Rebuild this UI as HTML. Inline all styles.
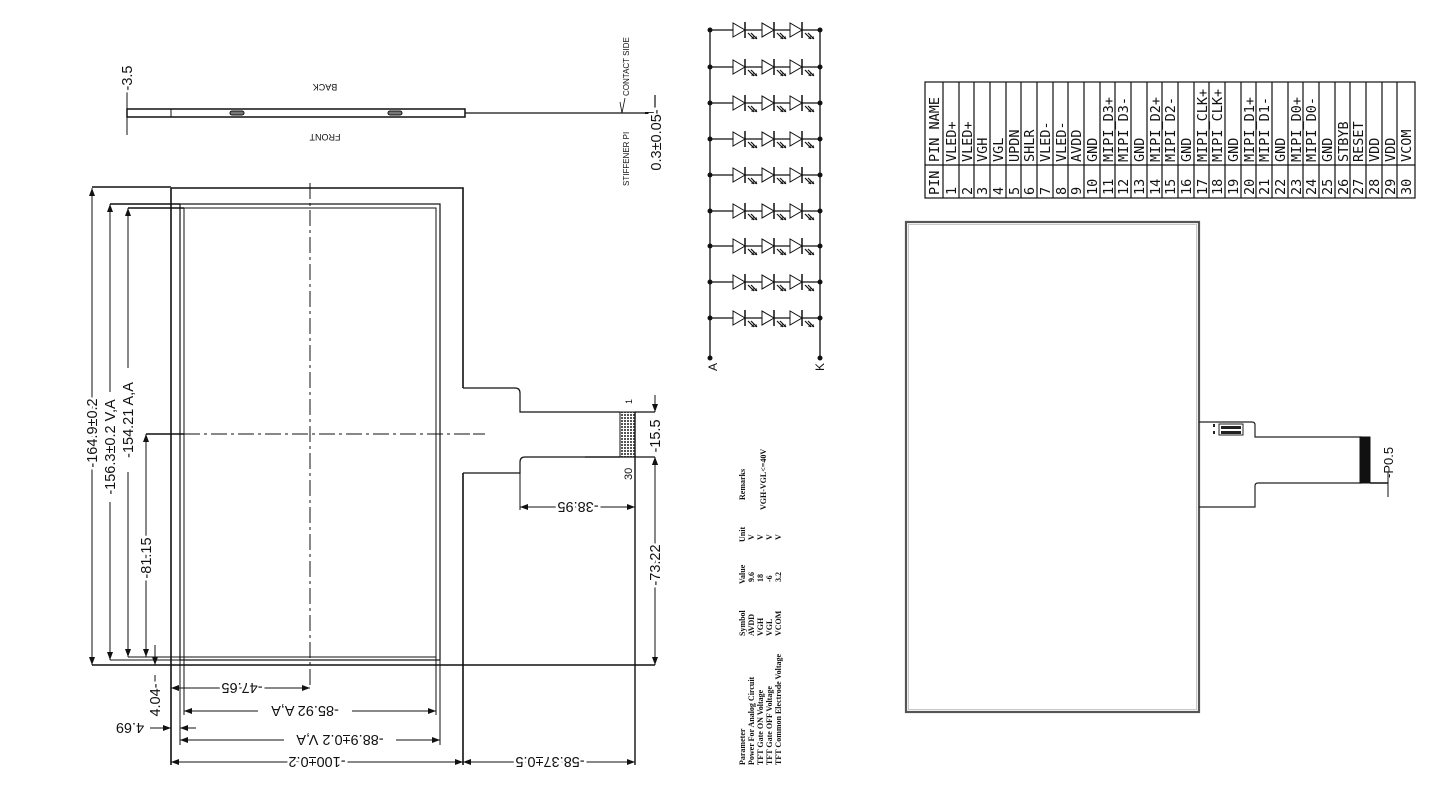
<!DOCTYPE html>
<html><head><meta charset="utf-8"><style>
html,body{margin:0;padding:0;background:#fff;}
svg{display:block;}
text{font-family:"Liberation Sans",sans-serif;fill:#111;}
.m{font-family:"DejaVu Sans Mono","Liberation Mono",monospace;font-size:13.5px;}
.s{font-family:"Liberation Serif",serif;font-weight:bold;font-size:8px;}
.dm{font-size:14.5px;text-anchor:middle;stroke:#fff;stroke-width:5px;paint-order:stroke;}
</style></head><body>
<svg width="1455" height="790" viewBox="0 0 1455 790" xmlns="http://www.w3.org/2000/svg">
<defs>
<g id="d">
<path d="M0,-7 L0,7 L12,0 Z" fill="#fff" stroke="#111" stroke-width="1"/>
<path d="M12,-8 L12,8" stroke="#111" stroke-width="1.5"/>
<path d="M15,3 L21,9 M18,3 L24,9" stroke="#111" stroke-width="1.2"/>
<path d="M21,9 l-3,-0.5 l2.5,-2.5 Z M24,9 l-3,-0.5 l2.5,-2.5 Z" fill="#111"/>
</g>
<g id="row">
<line x1="710" y1="0" x2="820" y2="0" stroke="#111" stroke-width="1.2"/>
<circle cx="710" cy="0" r="2.5" fill="#111"/><circle cx="820" cy="0" r="2.5" fill="#111"/>
<use href="#d" x="733" y="0"/><use href="#d" x="762" y="0"/><use href="#d" x="790" y="0"/>
</g>
<marker id="ar" markerWidth="8" markerHeight="6" refX="8" refY="3" orient="auto-start-reverse" markerUnits="userSpaceOnUse"><path d="M0,0 L8,3 L0,6 Z" fill="#111"/></marker>
<pattern id="hat" width="3" height="3" patternUnits="userSpaceOnUse"><rect width="3" height="3" fill="#fff"/><rect width="2" height="2" fill="#555"/></pattern>
</defs>

<!-- SIDE VIEW -->
<g stroke="#111" fill="none">
<rect x="127" y="109" width="338" height="8" stroke-width="1.5"/>
<line x1="171" y1="109" x2="171" y2="117"/>
<rect x="230" y="111" width="14" height="4" rx="2" fill="#777"/>
<rect x="388" y="111" width="14" height="4" rx="2" fill="#777"/>
<line x1="465" y1="113" x2="655" y2="113" stroke-width="1.2"/>
<line x1="127" y1="90" x2="127" y2="135"/>
<line x1="655" y1="95" x2="655" y2="130" stroke-width="1.2"/>
<line x1="645" y1="113" x2="655" y2="113" stroke-width="2"/>
<path d="M620,102 L622,113 L625,98" stroke-width="0.8"/>
</g>
<text class="dm" transform="translate(132,78) rotate(-90)">-3.5</text>
<text font-size="9" text-anchor="middle" transform="translate(325,84) rotate(180)">BACK</text>
<text font-size="9" text-anchor="middle" transform="translate(325,134) rotate(180)">FRONT</text>
<text font-size="8" transform="translate(629,96) rotate(-90)">CONTACT SIDE</text>
<text font-size="8" transform="translate(629,186) rotate(-90)">STIFFENER PI</text>
<text class="dm" transform="translate(661,140) rotate(-90)">0.3±0.05-</text>

<!-- FRONT VIEW -->
<g stroke="#111" fill="none">
<path d="M171,188 L463,188 L463,388 M463,473 L463,765" stroke-width="1.6"/>
<line x1="171" y1="188" x2="171" y2="765" stroke-width="1.6"/>
<rect x="180" y="204" width="260" height="456" stroke-width="1.2"/>
<rect x="184" y="208" width="252" height="449" stroke-width="1"/>
<line x1="92" y1="187" x2="171" y2="187" stroke-width="1.4"/>
<line x1="110" y1="204" x2="180" y2="204" stroke-width="1.4"/>
<line x1="128" y1="208" x2="184" y2="208" stroke-width="1.4"/>
<line x1="146" y1="434" x2="184" y2="434" stroke-width="1.4"/>
<line x1="92" y1="665" x2="655" y2="665" stroke-width="1.4"/>
<line x1="110" y1="660" x2="440" y2="660"/>
<line x1="128" y1="657" x2="436" y2="657"/>
<line x1="310" y1="183" x2="310" y2="688" stroke-dasharray="16,4,3,4"/>
<line x1="184" y1="434" x2="485" y2="434" stroke-dasharray="16,4,3,4"/>
<line x1="92" y1="188" x2="92" y2="665" marker-start="url(#ar)" marker-end="url(#ar)"/>
<line x1="110" y1="204" x2="110" y2="660" marker-start="url(#ar)" marker-end="url(#ar)"/>
<line x1="128" y1="208" x2="128" y2="657" marker-start="url(#ar)" marker-end="url(#ar)"/>
<line x1="146" y1="434" x2="146" y2="657" marker-start="url(#ar)" marker-end="url(#ar)"/>
<line x1="155" y1="645" x2="155" y2="665" marker-end="url(#ar)"/>
<line x1="155" y1="715" x2="155" y2="675"/>
<line x1="180" y1="660" x2="180" y2="745"/>
<line x1="184" y1="657" x2="184" y2="715"/>
<line x1="440" y1="660" x2="440" y2="745"/>
<line x1="436" y1="657" x2="436" y2="715"/>
<line x1="171" y1="688" x2="310" y2="688" marker-start="url(#ar)" marker-end="url(#ar)"/>
<line x1="184" y1="711" x2="436" y2="711" marker-start="url(#ar)" marker-end="url(#ar)"/>
<line x1="180" y1="740" x2="440" y2="740" marker-start="url(#ar)" marker-end="url(#ar)"/>
<line x1="171" y1="762" x2="463" y2="762" marker-start="url(#ar)" marker-end="url(#ar)"/>
<line x1="463" y1="762" x2="635" y2="762" marker-start="url(#ar)" marker-end="url(#ar)"/>
<line x1="150" y1="728" x2="171" y2="728" marker-end="url(#ar)"/>
<line x1="196" y1="728" x2="180" y2="728" marker-end="url(#ar)"/>
<path d="M463,388 L515,388 Q520,388 520,393 L520,412 L620,412 M620,457 L525,457 Q520,457 520,462 L520,473 L463,473" stroke-width="1.2"/>
<rect x="620" y="412" width="15" height="45" fill="url(#hat)" stroke-width="1"/>
<line x1="635" y1="412" x2="655" y2="412" stroke-width="1.2"/>
<line x1="585" y1="457" x2="655" y2="457" stroke-width="1.2"/>
<line x1="635" y1="412" x2="635" y2="765" stroke-width="1.4"/>
<line x1="520" y1="473" x2="520" y2="510"/>
<line x1="520" y1="507" x2="635" y2="507" marker-start="url(#ar)" marker-end="url(#ar)"/>
<line x1="655" y1="395" x2="655" y2="412" marker-end="url(#ar)"/>
<line x1="655" y1="475" x2="655" y2="457" marker-end="url(#ar)"/>
<line x1="655" y1="457" x2="655" y2="665" marker-start="url(#ar)" marker-end="url(#ar)"/>
<line x1="473" y1="434" x2="485" y2="434"/>
</g>
<!-- white gaps behind texts with spaces -->
<g fill="#fff">
<rect x="104" y="392" width="13" height="110"/>
<rect x="122" y="368" width="13" height="104"/>
<rect x="258" y="703" width="94" height="15"/>
<rect x="284" y="732" width="112" height="15"/>
</g>
<text class="dm" transform="translate(97,433) rotate(-90)">-164.9±0.2</text>
<text class="dm" transform="translate(115,447) rotate(-90)">-156.3±0.2 V,A</text>
<text class="dm" transform="translate(133,420) rotate(-90)">-154.21  A,A</text>
<text class="dm" transform="translate(151,558) rotate(-90)">-81.15</text>
<text class="dm" transform="translate(160,700) rotate(-90)">4.04-</text>
<text class="dm" transform="translate(660,565) rotate(-90)">-73.22</text>
<text class="dm" transform="translate(660,436) rotate(-90)">-15.5</text>
<text class="dm" transform="translate(242,683) rotate(180)">-47.65</text>
<text class="dm" transform="translate(305,706) rotate(180)">-85.92  A,A</text>
<text class="dm" transform="translate(340,735) rotate(180)">-88.9±0.2  V,A</text>
<text class="dm" transform="translate(317,757) rotate(180)">-100±0.2</text>
<text class="dm" transform="translate(550,757) rotate(180)">-58.37±0.5</text>
<text class="dm" transform="translate(578,502) rotate(180)">-38.95</text>
<text class="dm" transform="translate(130,723) rotate(180)">4.69</text>
<text font-size="9" transform="translate(632,404) rotate(-90)">1</text>
<text font-size="11" transform="translate(632,480) rotate(-90)">30</text>

<!-- LED ARRAY -->
<g stroke="#111" stroke-width="1.3" fill="none">
<line x1="710" y1="30" x2="710" y2="358"/>
<line x1="820" y1="30" x2="820" y2="358"/>
</g>
<use href="#row" y="30"/>
<use href="#row" y="67"/>
<use href="#row" y="103"/>
<use href="#row" y="139"/>
<use href="#row" y="175"/>
<use href="#row" y="211"/>
<use href="#row" y="246"/>
<use href="#row" y="282"/>
<use href="#row" y="318"/>
<circle cx="710" cy="358" r="2.5" fill="#111"/><circle cx="820" cy="358" r="2.5" fill="#111"/>
<text font-size="12" transform="translate(717,371) rotate(-90)">A</text>
<text font-size="12" transform="translate(824,371) rotate(-90)">K</text>

<!-- PARAM TABLE -->
<text class="s" transform="translate(745,765) rotate(-90)">Parameter</text>
<text class="s" transform="translate(754,765) rotate(-90)">Power For Analog Circuit</text>
<text class="s" transform="translate(763,765) rotate(-90)">TFT Gate ON Voltage</text>
<text class="s" transform="translate(772,765) rotate(-90)">TFT Gate OFF Voltage</text>
<text class="s" transform="translate(781,765) rotate(-90)">TFT Common Electrode Voltage</text>
<text class="s" transform="translate(745,636) rotate(-90)">Symbol</text>
<text class="s" transform="translate(754,636) rotate(-90)">AVDD</text>
<text class="s" transform="translate(763,636) rotate(-90)">VGH</text>
<text class="s" transform="translate(772,636) rotate(-90)">VGL</text>
<text class="s" transform="translate(781,636) rotate(-90)">VCOM</text>
<text class="s" transform="translate(745,584) rotate(-90)">Value</text>
<text class="s" transform="translate(754,582) rotate(-90)">9.6</text>
<text class="s" transform="translate(763,582) rotate(-90)">18</text>
<text class="s" transform="translate(772,582) rotate(-90)">-6</text>
<text class="s" transform="translate(781,582) rotate(-90)">3.2</text>
<text class="s" transform="translate(745,542) rotate(-90)">Unit</text>
<text class="s" transform="translate(754,540) rotate(-90)">V</text>
<text class="s" transform="translate(763,540) rotate(-90)">V</text>
<text class="s" transform="translate(772,540) rotate(-90)">V</text>
<text class="s" transform="translate(781,540) rotate(-90)">V</text>
<text class="s" transform="translate(745,500) rotate(-90)">Remarks</text>
<text class="s" transform="translate(766,510) rotate(-90)">VGH-VGL&lt;=40V</text>

<!-- PIN TABLE -->
<g stroke="#111" stroke-width="1.2" fill="none">
<rect x="925" y="82" width="490" height="116"/>
<line x1="925" y1="165" x2="1415" y2="165"/>
<line x1="943" y1="82" x2="943" y2="198"/><line x1="959" y1="82" x2="959" y2="198"/><line x1="974" y1="82" x2="974" y2="198"/><line x1="990" y1="82" x2="990" y2="198"/><line x1="1006" y1="82" x2="1006" y2="198"/><line x1="1021" y1="82" x2="1021" y2="198"/><line x1="1037" y1="82" x2="1037" y2="198"/><line x1="1053" y1="82" x2="1053" y2="198"/><line x1="1068" y1="82" x2="1068" y2="198"/><line x1="1084" y1="82" x2="1084" y2="198"/><line x1="1100" y1="82" x2="1100" y2="198"/><line x1="1115" y1="82" x2="1115" y2="198"/><line x1="1131" y1="82" x2="1131" y2="198"/><line x1="1147" y1="82" x2="1147" y2="198"/><line x1="1162" y1="82" x2="1162" y2="198"/><line x1="1178" y1="82" x2="1178" y2="198"/><line x1="1194" y1="82" x2="1194" y2="198"/><line x1="1209" y1="82" x2="1209" y2="198"/><line x1="1225" y1="82" x2="1225" y2="198"/><line x1="1241" y1="82" x2="1241" y2="198"/><line x1="1256" y1="82" x2="1256" y2="198"/><line x1="1272" y1="82" x2="1272" y2="198"/><line x1="1288" y1="82" x2="1288" y2="198"/><line x1="1303" y1="82" x2="1303" y2="198"/><line x1="1319" y1="82" x2="1319" y2="198"/><line x1="1335" y1="82" x2="1335" y2="198"/><line x1="1350" y1="82" x2="1350" y2="198"/><line x1="1366" y1="82" x2="1366" y2="198"/><line x1="1382" y1="82" x2="1382" y2="198"/><line x1="1397" y1="82" x2="1397" y2="198"/>
</g>
<text class="m" transform="translate(939,162) rotate(-90)">PIN NAME</text>
<text class="m" transform="translate(939,195) rotate(-90)">PIN</text>
<text class="m" transform="translate(956,162) rotate(-90)">VLED+</text><text class="m" transform="translate(956,195) rotate(-90)">1</text>
<text class="m" transform="translate(972,162) rotate(-90)">VLED+</text><text class="m" transform="translate(972,195) rotate(-90)">2</text>
<text class="m" transform="translate(987,162) rotate(-90)">VGH</text><text class="m" transform="translate(987,195) rotate(-90)">3</text>
<text class="m" transform="translate(1003,162) rotate(-90)">VGL</text><text class="m" transform="translate(1003,195) rotate(-90)">4</text>
<text class="m" transform="translate(1019,162) rotate(-90)">UPDN</text><text class="m" transform="translate(1019,195) rotate(-90)">5</text>
<text class="m" transform="translate(1034,162) rotate(-90)">SHLR</text><text class="m" transform="translate(1034,195) rotate(-90)">6</text>
<text class="m" transform="translate(1050,162) rotate(-90)">VLED-</text><text class="m" transform="translate(1050,195) rotate(-90)">7</text>
<text class="m" transform="translate(1066,162) rotate(-90)">VLED-</text><text class="m" transform="translate(1066,195) rotate(-90)">8</text>
<text class="m" transform="translate(1081,162) rotate(-90)">AVDD</text><text class="m" transform="translate(1081,195) rotate(-90)">9</text>
<text class="m" transform="translate(1097,162) rotate(-90)">GND</text><text class="m" transform="translate(1097,195) rotate(-90)">10</text>
<text class="m" transform="translate(1113,162) rotate(-90)">MIPI_D3+</text><text class="m" transform="translate(1113,195) rotate(-90)">11</text>
<text class="m" transform="translate(1128,162) rotate(-90)">MIPI_D3-</text><text class="m" transform="translate(1128,195) rotate(-90)">12</text>
<text class="m" transform="translate(1144,162) rotate(-90)">GND</text><text class="m" transform="translate(1144,195) rotate(-90)">13</text>
<text class="m" transform="translate(1160,162) rotate(-90)">MIPI_D2+</text><text class="m" transform="translate(1160,195) rotate(-90)">14</text>
<text class="m" transform="translate(1175,162) rotate(-90)">MIPI_D2-</text><text class="m" transform="translate(1175,195) rotate(-90)">15</text>
<text class="m" transform="translate(1191,162) rotate(-90)">GND</text><text class="m" transform="translate(1191,195) rotate(-90)">16</text>
<text class="m" transform="translate(1207,162) rotate(-90)">MIPI_CLK+</text><text class="m" transform="translate(1207,195) rotate(-90)">17</text>
<text class="m" transform="translate(1222,162) rotate(-90)">MIPI_CLK+</text><text class="m" transform="translate(1222,195) rotate(-90)">18</text>
<text class="m" transform="translate(1238,162) rotate(-90)">GND</text><text class="m" transform="translate(1238,195) rotate(-90)">19</text>
<text class="m" transform="translate(1254,162) rotate(-90)">MIPI_D1+</text><text class="m" transform="translate(1254,195) rotate(-90)">20</text>
<text class="m" transform="translate(1269,162) rotate(-90)">MIPI_D1-</text><text class="m" transform="translate(1269,195) rotate(-90)">21</text>
<text class="m" transform="translate(1285,162) rotate(-90)">GND</text><text class="m" transform="translate(1285,195) rotate(-90)">22</text>
<text class="m" transform="translate(1301,162) rotate(-90)">MIPI_D0+</text><text class="m" transform="translate(1301,195) rotate(-90)">23</text>
<text class="m" transform="translate(1316,162) rotate(-90)">MIPI_D0-</text><text class="m" transform="translate(1316,195) rotate(-90)">24</text>
<text class="m" transform="translate(1332,162) rotate(-90)">GND</text><text class="m" transform="translate(1332,195) rotate(-90)">25</text>
<text class="m" transform="translate(1348,162) rotate(-90)">STBYB</text><text class="m" transform="translate(1348,195) rotate(-90)">26</text>
<text class="m" transform="translate(1363,162) rotate(-90)">RESET</text><text class="m" transform="translate(1363,195) rotate(-90)">27</text>
<text class="m" transform="translate(1379,162) rotate(-90)">VDD</text><text class="m" transform="translate(1379,195) rotate(-90)">28</text>
<text class="m" transform="translate(1395,162) rotate(-90)">VDD</text><text class="m" transform="translate(1395,195) rotate(-90)">29</text>
<text class="m" transform="translate(1411,162) rotate(-90)">VCOM</text><text class="m" transform="translate(1411,195) rotate(-90)">30</text>

<!-- RIGHT VIEW -->
<g fill="none">
<rect x="906" y="222" width="293" height="490" stroke="#555" stroke-width="2.2"/>
<rect x="908.5" y="224.5" width="288" height="485" stroke="#bbb" stroke-width="0.8"/>
<path d="M1199,422 L1252,422 Q1255,422 1255,425 L1255,437 L1362,437 M1362,483 L1258,483 Q1255,483 1255,486 L1255,507 L1199,507" stroke="#222" stroke-width="1.2"/>
<rect x="1360" y="437" width="10" height="46" fill="#111" stroke="#111"/>
<rect x="1219" y="424" width="24" height="11" fill="#fff" stroke="#222" stroke-width="1"/>
<rect x="1221" y="426" width="20" height="3" fill="#222"/>
<rect x="1221" y="431" width="20" height="3" fill="#222"/>
<rect x="1213" y="424" width="2" height="3" fill="#222"/><rect x="1213" y="431" width="2" height="3" fill="#222"/>
<line x1="1370" y1="483" x2="1388" y2="483" stroke="#111" stroke-width="1.5"/>
<line x1="1388" y1="472" x2="1388" y2="497" stroke="#111" stroke-width="1"/>
</g>
<text font-size="13" transform="translate(1393,478) rotate(-90)">-P0.5</text>
</svg>
</body></html>
